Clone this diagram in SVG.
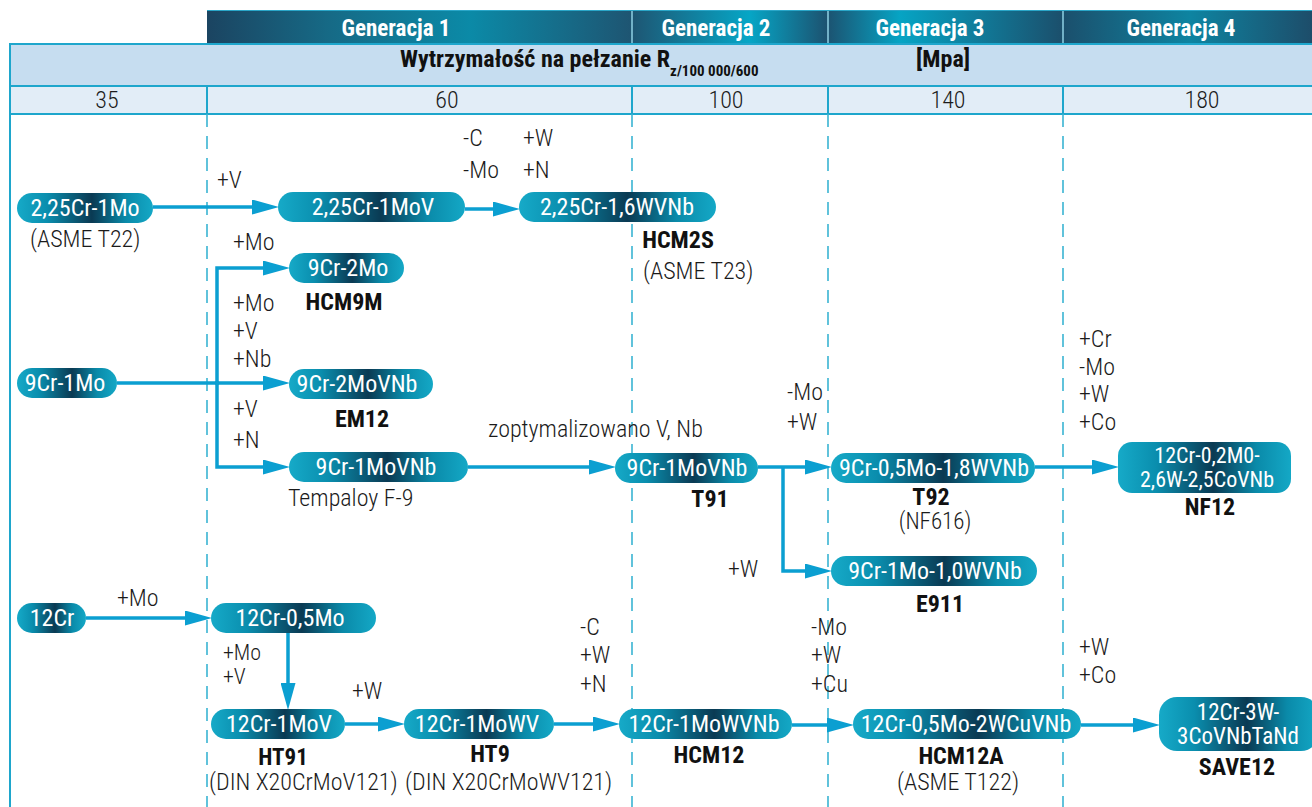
<svg xmlns="http://www.w3.org/2000/svg" width="1312" height="807" viewBox="0 0 1312 807">
<defs>
<linearGradient id="hdr" gradientUnits="userSpaceOnUse" x1="207" y1="0" x2="1312" y2="0">
<stop offset="0" stop-color="#1b4461"/><stop offset="0.111" stop-color="#166a86"/><stop offset="0.238" stop-color="#0b8aa7"/><stop offset="0.384" stop-color="#1e5572"/><stop offset="0.491" stop-color="#06a6c6"/><stop offset="0.561" stop-color="#1c5270"/><stop offset="0.627" stop-color="#06a4c4"/><stop offset="0.774" stop-color="#1b4f6c"/><stop offset="0.89" stop-color="#0e84a1"/><stop offset="1" stop-color="#1d4d6a"/>
</linearGradient>
<linearGradient id="pill" x1="0" y1="0" x2="1" y2="0">
<stop offset="0" stop-color="#16aac8"/><stop offset="0.22" stop-color="#0a8eae"/><stop offset="0.55" stop-color="#0a3a53"/><stop offset="0.8" stop-color="#0a8aa9"/><stop offset="1" stop-color="#14a8c6"/>
</linearGradient>
<marker id="ah" markerUnits="userSpaceOnUse" markerWidth="27" markerHeight="15" refX="16" refY="7.5" orient="auto">
<path d="M0,0 L27,7.5 L0,15 z" fill="#0b9fd1"/>
</marker>
<style>
text{font-family:Roboto,"Liberation Sans",sans-serif;font-stretch:condensed}
.l{font-size:24px;font-weight:300;fill:#1b1b1b}
.b{font-size:24px;font-weight:700;fill:#111;text-anchor:middle}
.n{font-size:24px;font-weight:400;fill:#fff;text-anchor:middle}
.h{font-size:23px;font-weight:700;fill:#fff;text-anchor:middle}
.m{text-anchor:middle}
.p{fill:url(#pill)}
.dash{stroke:#3ab4d3;stroke-width:1.6;stroke-dasharray:13 9;fill:none}
.grid{stroke:#1ea6cc;stroke-width:2;fill:none}
.cn{stroke:#0b9fd1;stroke-width:3.5;fill:none;marker-end:url(#ah)}
.cp{stroke:#0b9fd1;stroke-width:3.5;fill:none}
.t2{font-size:24px;font-weight:700;fill:#111}
</style>
</defs>
<rect width="1312" height="807" fill="#fff"/>
<g id="table">
<rect x="207" y="10" width="1105" height="34" fill="url(#hdr)"/>
<line x1="207" y1="10.5" x2="1312" y2="10.5" stroke="#2aa6c8" stroke-width="1"/>
<g stroke="#8fd0e4" stroke-width="1.5"><line x1="632" y1="11" x2="632" y2="44"/><line x1="828" y1="11" x2="828" y2="44"/><line x1="1063" y1="11" x2="1063" y2="44"/></g>
<text class="h" x="396" y="36">Generacja 1</text>
<text class="h" x="716" y="36">Generacja 2</text>
<text class="h" x="930" y="36">Generacja 3</text>
<text class="h" x="1181" y="36">Generacja 4</text>
<rect x="10" y="44" width="1302" height="42" fill="#c6ddf0"/>
<rect x="10" y="86" width="1302" height="28" fill="#e2edf7"/>
<path class="grid" d="M10,44 H1312 M10,86 H1312 M10,114 H1312 M10,43 V807 M207,86 V114 M632,86 V114 M828,86 V114 M1063,86 V114"/>
<text x="400" y="67" class="t2">Wytrzymałość na pełzanie R<tspan dy="9" style="font-size:15px">z/100 000/600</tspan></text>
<text x="943" y="67" class="t2 m">[Mpa]</text>
<text class="l m" x="107" y="108">35</text>
<text class="l m" x="447" y="108">60</text>
<text class="l m" x="726" y="108">100</text>
<text class="l m" x="948" y="108">140</text>
<text class="l m" x="1202" y="108">180</text>
<path class="dash" d="M207,114 V807 M632,114 V807 M828,114 V807 M1063,114 V807"/>
</g>
<g id="connectors">
<path class="cn" d="M153,207 H268"/>
<path class="cn" d="M465,209 H509"/>
<path class="cp" d="M117,383 H217"/>
<path class="cn" d="M217,383 H279"/>
<path class="cn" d="M217,385 V268 H279"/>
<path class="cn" d="M217,381 V467 H279"/>
<path class="cn" d="M468,467 H605"/>
<path class="cn" d="M758,467 H821"/>
<path class="cn" d="M783,467 V571 H821"/>
<path class="cn" d="M1035,467 H1108"/>
<path class="cn" d="M86,618 H201"/>
<path class="cn" d="M288,633 V699"/>
<path class="cn" d="M345,724 H394"/>
<path class="cn" d="M554,724 H609"/>
<path class="cn" d="M792,725 H843"/>
<path class="cn" d="M1081,725 H1149"/>
</g>
<g id="n1"><rect class="p" x="17" y="193" width="136" height="30" rx="15"/><text class="n" x="85" y="216">2,25Cr-1Mo</text></g>
<g id="n2"><rect class="p" x="278" y="192" width="187" height="30" rx="15"/><text class="n" x="373" y="215">2,25Cr-1MoV</text></g>
<g id="n3"><rect class="p" x="519" y="192" width="197" height="30" rx="15"/><text class="n" x="617" y="215">2,25Cr-1,6WVNb</text></g>
<g id="n4"><rect class="p" x="289" y="253" width="115" height="30" rx="15"/><text class="n" x="348" y="276">9Cr-2Mo</text></g>
<g id="n5"><rect class="p" x="17" y="368" width="100" height="30" rx="15"/><text class="n" x="65" y="391">9Cr-1Mo</text></g>
<g id="n6"><rect class="p" x="289" y="369" width="144" height="30" rx="15"/><text class="n" x="357" y="392">9Cr-2MoVNb</text></g>
<g id="n7"><rect class="p" x="289" y="452" width="179" height="30" rx="15"/><text class="n" x="376" y="475">9Cr-1MoVNb</text></g>
<g id="n8"><rect class="p" x="615" y="453" width="143" height="30" rx="15"/><text class="n" x="687" y="476">9Cr-1MoVNb</text></g>
<g id="n9"><rect class="p" x="831" y="453" width="204" height="30" rx="15"/><text class="n" x="934" y="476">9Cr-0,5Mo-1,8WVNb</text></g>
<g id="n10"><rect class="p" x="831" y="556" width="206" height="30" rx="15"/><text class="n" x="935" y="579">9Cr-1Mo-1,0WVNb</text></g>
<g id="n11"><rect class="p" x="1118" y="442" width="173" height="51" rx="14"/><text class="n" x="1207" y="463" style="font-size:22px">12Cr-0,2M0-</text><text class="n" x="1207" y="487" style="font-size:22px">2,6W-2,5CoVNb</text></g>
<g id="n12"><rect class="p" x="17" y="603" width="69" height="30" rx="15"/><text class="n" x="52" y="626">12Cr</text></g>
<g id="n13"><rect class="p" x="211" y="603" width="165" height="30" rx="15"/><text class="n" x="290" y="626">12Cr-0,5Mo</text></g>
<g id="n14"><rect class="p" x="211" y="709" width="134" height="30" rx="15"/><text class="n" x="279" y="732">12Cr-1MoV</text></g>
<g id="n15"><rect class="p" x="404" y="709" width="150" height="30" rx="15"/><text class="n" x="477" y="732">12Cr-1MoWV</text></g>
<g id="n16"><rect class="p" x="619" y="709" width="173" height="30" rx="15"/><text class="n" x="704" y="732">12Cr-1MoWVNb</text></g>
<g id="n17"><rect class="p" x="853" y="709" width="228" height="30" rx="15"/><text class="n" x="966" y="732">12Cr-0,5Mo-2WCuVNb</text></g>
<g id="n18"><rect class="p" x="1159" y="697" width="160" height="54" rx="18"/><text class="n" x="1238" y="720" style="font-size:23px">12Cr-3W-</text><text class="n" x="1238" y="744" style="font-size:23px">3CoVNbTaNd</text></g>
<g id="labels">
<text class="l" x="217" y="188">+V</text>
<text class="l" x="30" y="247">(ASME T22)</text>
<text class="l" x="233" y="250">+Mo</text>
<text class="b" x="344" y="310">HCM9M</text>
<text class="l" x="233" y="311">+Mo</text>
<text class="l" x="233" y="339">+V</text>
<text class="l" x="233" y="367">+Nb</text>
<text class="b" x="362" y="427">EM12</text>
<text class="l" x="233" y="417">+V</text>
<text class="l" x="233" y="448">+N</text>
<text class="l" x="288" y="506">Tempaloy F-9</text>
<text class="l" x="463" y="146">-C</text>
<text class="l" x="523" y="146">+W</text>
<text class="l" x="463" y="178">-Mo</text>
<text class="l" x="523" y="178">+N</text>
<text class="b" x="678" y="248">HCM2S</text>
<text class="l" x="643" y="279">(ASME T23)</text>
<text class="l" x="488" y="437">zoptymalizowano V, Nb</text>
<text class="l" x="787" y="400">-Mo</text>
<text class="l" x="787" y="430">+W</text>
<text class="b" x="710" y="507">T91</text>
<text class="b" x="931" y="505">T92</text>
<text class="l m" x="935" y="529" style="font-size:23px">(NF616)</text>
<text class="l" x="728" y="577">+W</text>
<text class="b" x="940" y="612">E911</text>
<text class="l" x="1079" y="347">+Cr</text>
<text class="l" x="1079" y="375">-Mo</text>
<text class="l" x="1079" y="402">+W</text>
<text class="l" x="1079" y="430">+Co</text>
<text class="b" x="1210" y="515">NF12</text>
<text class="l" x="117" y="606">+Mo</text>
<text class="l" x="223" y="660" style="font-size:22px">+Mo</text>
<text class="l" x="223" y="684" style="font-size:22px">+V</text>
<text class="l" x="352" y="699">+W</text>
<text class="b" x="283" y="765" style="font-size:23px">HT91</text>
<text class="l" x="209" y="790">(DIN X20CrMoV121)</text>
<text class="b" x="490" y="762">HT9</text>
<text class="l" x="405" y="790">(DIN X20CrMoWV121)</text>
<text class="l" x="580" y="635">-C</text>
<text class="l" x="580" y="663">+W</text>
<text class="l" x="580" y="692">+N</text>
<text class="b" x="709" y="763">HCM12</text>
<text class="l" x="811" y="635">-Mo</text>
<text class="l" x="811" y="663">+W</text>
<text class="l" x="811" y="692">+Cu</text>
<text class="b" x="961" y="764">HCM12A</text>
<text class="l m" x="958" y="790">(ASME T122)</text>
<text class="l" x="1079" y="655">+W</text>
<text class="l" x="1079" y="683">+Co</text>
<text class="b" x="1237" y="775">SAVE12</text>
</g>
</svg>
